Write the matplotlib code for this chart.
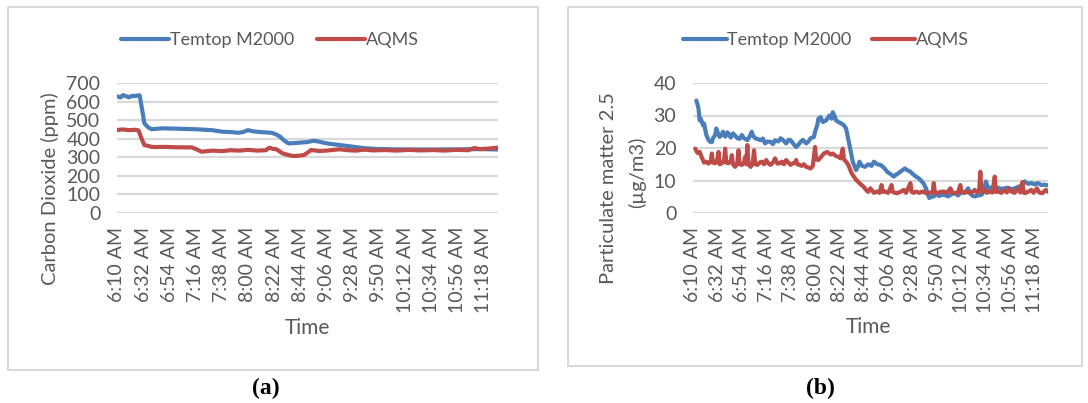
import matplotlib
matplotlib.use('Agg')
import matplotlib.pyplot as plt
from matplotlib.patches import Rectangle

plt.rcParams['font.family'] = ['Lato', 'DejaVu Sans']

# tick labels (every 22 minutes from 6:10 AM)
tick_minutes = [0, 22, 44, 66, 88, 110, 132, 154, 176, 198, 220, 242, 264, 286, 308]
tick_labels = ['6:10 AM', '6:32 AM', '6:54 AM', '7:16 AM', '7:38 AM', '8:00 AM', '8:22 AM',
               '8:44 AM', '9:06 AM', '9:28 AM', '9:50 AM', '10:12 AM', '10:34 AM',
               '10:56 AM', '11:18 AM']

# (a) carbon dioxide, minutes after 6:10 and ppm
co2_temtop_t = [0, 3, 5, 8, 10, 13, 15, 19, 21, 23, 26, 29, 38, 50, 66, 80, 88, 95, 102, 106,
                110, 114, 120, 130, 134, 137, 140, 144, 148, 154, 160, 165, 170, 176, 182, 187,
                192, 198, 204, 210, 218, 230, 250, 270, 290, 305, 320]
co2_temtop = [628, 622, 635, 628, 623, 631, 630, 634, 560, 483, 462, 451, 456, 454, 451, 446,
              438, 436, 432, 436, 446, 440, 436, 432, 422, 411, 392, 375, 376, 379, 382, 389,
              384, 375, 370, 366, 362, 357, 352, 348, 345, 343, 342, 342, 343, 344, 342]
co2_aqms_t = [0, 5, 10, 15, 18, 21, 23, 30, 40, 50, 63, 67, 71, 80, 88, 95, 103, 110, 118,
              125, 128, 131, 134, 139, 144, 148, 152, 157, 160, 163, 170, 176, 182, 187, 194,
              201, 208, 215, 225, 235, 245, 255, 265, 275, 285, 295, 300, 305, 312, 320]
co2_aqms = [447, 450, 446, 448, 445, 395, 366, 355, 356, 354, 353, 342, 330, 336, 333, 338,
            336, 340, 336, 338, 352, 345, 343, 321, 312, 307, 308, 312, 325, 339, 334, 336,
            340, 343, 338, 336, 341, 337, 339, 336, 340, 337, 339, 336, 340, 338, 350, 344,
            347, 352]

# (b) PM2.5, minutes after 6:10 and ug/m3
pm_temtop_t = [3, 4, 5, 6, 7, 9, 10, 12, 14, 15, 17, 18, 20, 21, 22, 24, 26, 27, 29, 31, 32,
               34, 36, 38, 40, 42, 44, 46, 48, 49, 51, 53, 54, 56, 58, 61, 63, 65, 67, 70, 72,
               74, 77, 79, 81, 84, 86, 88, 90, 93, 95, 97, 99, 102, 104, 106, 109, 110, 112,
               113, 115, 117, 120, 122, 123, 125, 126, 128, 129, 131, 134, 136, 138, 141, 144,
               147, 149, 150, 152, 155, 158, 161, 163, 166, 169, 172, 175, 178, 181, 183, 185,
               188, 191, 193, 196, 198, 201, 203, 205, 208, 210, 212, 213, 215, 217, 220, 222,
               224, 227, 230, 233, 236, 239, 242, 245, 248, 250, 252, 254, 257, 260, 262, 264,
               266, 269, 272, 275, 278, 281, 284, 287, 290, 293, 296, 299, 302, 305, 308, 311,
               314, 317, 320]
pm_temtop = [34.6, 33.5, 32, 28.5, 29, 27, 27.5, 24, 22.5, 22, 21.8, 23, 24, 26, 25, 23.4,
             24.2, 25, 23.5, 24.8, 24.4, 23.2, 24.5, 23.8, 23, 22.8, 24, 23, 22.6, 22.4, 23.5,
             25, 23.8, 23, 22.8, 22.4, 22.9, 21.4, 22, 21.9, 21.2, 22.4, 22, 23, 22.5, 21.4,
             22.5, 22.4, 21.5, 20.3, 21, 21.9, 22.5, 21.4, 22, 23, 23.4, 25, 27, 29, 29.5, 28,
             28.5, 29.5, 30, 29, 31, 29.5, 28.5, 28, 27.5, 27, 26, 21, 15.8, 13.2, 14.5, 15.8,
             14.6, 14.2, 15, 14.5, 15.8, 15, 14.8, 14, 12.7, 12, 11.2, 11.8, 12.2, 13, 13.7,
             13.2, 12.7, 12, 11.2, 10.8, 10.2, 9, 7.6, 5.5, 4.6, 5, 5.1, 5.8, 5.2, 5.6, 5.5,
             5.1, 5.8, 6.1, 5.4, 6.6, 6.2, 7.6, 6, 5.3, 5.1, 5.4, 5.6, 6.5, 9.7, 7.6, 7.9, 7.6,
             7.8, 7.4, 7.6, 7.8, 7.3, 7.6, 8, 8.5, 9.7, 9, 9.2, 8.8, 9.2, 8.6, 8.7, 8.5]
pm_aqms_t = [2, 4, 6, 8, 10, 12, 14, 16, 17, 18, 20, 22, 23, 24, 26, 28, 29, 30, 32, 34, 35,
             36, 38, 40, 41, 42, 44, 46, 47, 48, 49, 50, 52, 54, 55, 56, 58, 60, 62, 64, 66,
             68, 70, 72, 74, 76, 78, 80, 82, 84, 86, 88, 90, 92, 93, 94, 96, 98, 100, 102, 104,
             106, 108, 110, 111, 113, 116, 118, 121, 124, 126, 129, 131, 133, 135, 136, 138,
             140, 143, 147, 150, 152, 154, 156, 158, 160, 163, 166, 168, 170, 171, 173, 176,
             179, 180, 182, 184, 187, 190, 192, 196, 197, 199, 201, 204, 206, 208, 210, 213,
             216, 217, 218, 220, 223, 226, 229, 232, 234, 237, 239, 241, 242, 244, 246, 249,
             252, 254, 256, 258, 259, 260, 263, 265, 267, 270, 272, 273, 275, 278, 281, 283,
             285, 287, 290, 293, 295, 297, 298, 299, 302, 305, 307, 310, 312, 315, 318, 320]
pm_aqms = [19.8, 18.5, 18.8, 17, 15.5, 15.8, 15.2, 16, 18.3, 15.5, 15.3, 16.5, 18.8, 15,
           15.3, 16, 19.8, 15.5, 15.3, 16, 17.8, 15, 14.2, 15.5, 19.3, 15, 14.8, 15.5, 17.3,
           15, 20.9, 15, 14.2, 15.8, 19.3, 15, 14.8, 15.5, 15.8, 15, 16.3, 15.2, 14.8, 15.5,
           16.8, 15.2, 15.3, 15.8, 15, 16.3, 15.5, 14.8, 15.3, 15.5, 16.3, 15, 14.8, 14.5, 15,
           14.2, 14, 13.7, 14.5, 20.3, 16.5, 16.3, 17.5, 18.3, 18.8, 18, 18.3, 17.5, 17.3,
           16.8, 19.8, 16.5, 15.8, 14.8, 12.2, 10.2, 9.2, 8.6, 8, 7.1, 6.5, 7.6, 6.2, 6.6, 6.2,
           8.6, 6.5, 6.6, 6.2, 8.6, 6.5, 6.2, 6.1, 6.5, 7.1, 6.2, 9.2, 6.5, 6.2, 6.6, 6.2, 6.5,
           6.6, 6.1, 6.3, 6.2, 9.2, 6.3, 6.1, 6.5, 6.6, 6.2, 7.6, 6.2, 6.1, 6.5, 8.6, 6.4, 6.2,
           6.6, 6.2, 6.5, 7.1, 6.3, 7, 12.7, 6.5, 7.1, 6.2, 6.6, 6.3, 11.2, 6.5, 6.6, 6.2, 7.1,
           6.3, 7.5, 6.6, 6.2, 7.6, 6.3, 9.5, 6.4, 6.1, 6.5, 7.1, 6.2, 7.6, 6.3, 6.1, 7.1, 6.5]

W, H = 1088, 403
BLUE = '#4A7EBB'
RED = '#BE4B48'
TXT = '#595959'
GRID = '#D9D9D9'

fig = plt.figure(figsize=(W / 100, H / 100), dpi=100)


def px_axes(left, top, right, bottom):
    return fig.add_axes([left / W, 1 - bottom / H, (right - left) / W, (bottom - top) / H])


def style_axes(ax, ymax, ystep):
    ax.set_xlim(0, 320)
    ax.set_ylim(0, ymax)
    ax.set_yticks(range(0, ymax + 1, ystep))
    ax.set_xticks(tick_minutes)
    ax.set_xticklabels(tick_labels, rotation=90, va='top', ha='center')
    ax.tick_params(length=0, colors=TXT, labelsize=14)
    ax.tick_params(axis='x', pad=10)
    ax.tick_params(axis='y', pad=12)
    ax.grid(axis='y', color=GRID, lw=1.6)
    ax.set_axisbelow(True)
    for s in ax.spines.values():
        s.set_visible(False)


# chart area borders
fig.add_artist(Rectangle((8 / W, 1 - 370 / H), 530 / W, 363 / H, transform=fig.transFigure,
                         fill=False, edgecolor=GRID, lw=1.5))
fig.add_artist(Rectangle((568 / W, 1 - 366 / H), 514 / W, 359 / H, transform=fig.transFigure,
                         fill=False, edgecolor=GRID, lw=1.5))

# (a) Carbon dioxide
ax1 = px_axes(117, 83, 498, 213)
ax1.plot(co2_temtop_t, co2_temtop, color=BLUE, lw=3, label='Temtop M2000', solid_capstyle='round')
ax1.plot(co2_aqms_t, co2_aqms, color=RED, lw=3, label='AQMS', solid_capstyle='round')
style_axes(ax1, 700, 100)
ax1.legend(loc='center', bbox_to_anchor=(270 / W, 1 - 40 / H), bbox_transform=fig.transFigure,
           ncol=2, frameon=False, fontsize=13, labelcolor=TXT, handlelength=2.65,
           handletextpad=0.05, columnspacing=1.25)
fig.text(50 / W, 1 - 189 / H, 'Carbon Dioxide (ppm)', rotation=90, ha='center', va='center',
         color=TXT, fontsize=14.5)
fig.text(307 / W, 1 - 328 / H, 'Time', ha='center', va='center', color=TXT, fontsize=15)
fig.text(266 / W, 1 - 388 / H, '(a)', ha='center', va='center', fontsize=17,
         fontweight='bold', family='Liberation Serif')

# (b) PM2.5
ax2 = px_axes(693, 83, 1048, 213)
ax2.plot(pm_temtop_t, pm_temtop, color=BLUE, lw=3, label='Temtop M2000', solid_capstyle='round')
ax2.plot(pm_aqms_t, pm_aqms, color=RED, lw=3, label='AQMS', solid_capstyle='round')
style_axes(ax2, 40, 10)
ax2.legend(loc='center', bbox_to_anchor=(826 / W, 1 - 40 / H), bbox_transform=fig.transFigure,
           ncol=2, frameon=False, fontsize=13, labelcolor=TXT, handlelength=2.4,
           handletextpad=0.05, columnspacing=1.1)
fig.text(608 / W, 1 - 188 / H, 'Particulate matter 2.5', rotation=90, ha='center', va='center',
         color=TXT, fontsize=14.5)
fig.text(637 / W, 1 - 172 / H, '(µg/m3)', rotation=90, ha='center', va='center',
         color=TXT, fontsize=14.5)
fig.text(868 / W, 1 - 327 / H, 'Time', ha='center', va='center', color=TXT, fontsize=15)
fig.text(820 / W, 1 - 388 / H, '(b)', ha='center', va='center', fontsize=17,
         fontweight='bold', family='Liberation Serif')

fig.savefig('out.png', dpi=100)
